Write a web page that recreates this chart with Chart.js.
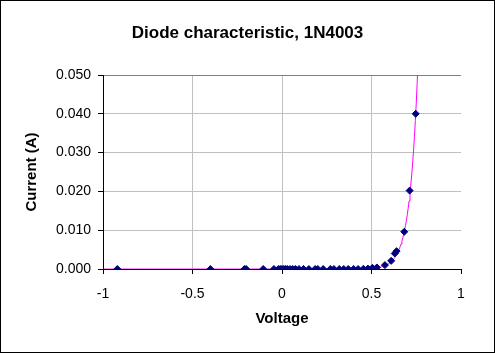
<!DOCTYPE html>
<html>
<head>
<meta charset="utf-8">
<script src="https://cdn.jsdelivr.net/npm/chart.js@4.4.1/dist/chart.umd.min.js"></script>
<style>
  html, body { margin: 0; padding: 0; background: #fff; }
  canvas { display: block; }
</style>
</head>
<body>
<canvas id="diodeChart" width="495" height="353"></canvas>
<script>
// measured points (voltage in V, current in A)
const voltage = [-0.92, -0.40, -0.21, -0.20, -0.105, -0.045, -0.02, -0.01, 0.00, 0.01,
                 0.02, 0.03, 0.045, 0.06, 0.075, 0.095, 0.12, 0.15, 0.185, 0.20,
                 0.23, 0.27, 0.29, 0.32, 0.345, 0.37, 0.40, 0.425, 0.455, 0.48,
                 0.505, 0.53, 0.575, 0.61, 0.63, 0.64, 0.683, 0.713, 0.747];
const current = [0, 0, 0, 0, 0, 0, 0, 0, 0, 0,
                 0, 0, 0, 0, 0, 0, 0, 0, 0, 0,
                 0, 0, 0, 0, 0, 0, 0, 0, 0.00005, 0.0001,
                 0.0003, 0.0004, 0.001, 0.0021, 0.0040, 0.0046, 0.0096, 0.0202, 0.040];

// exponential trendline I = a * exp(b * V), fitted by eye to the picture
const trendA = 2.33e-9;
const trendB = 22.3;
const trendFrom = -1;
const trendTo = 0.76;

const xTicks = [-1, -0.5, 0, 0.5, 1];
const yTicks = [0, 0.01, 0.02, 0.03, 0.04, 0.05];

const points = voltage.map((v, i) => ({ x: v, y: current[i] }));

const trend = [];
for (let v = trendFrom; v <= trendTo + 1e-9; v += 0.005) {
    trend.push({ x: v, y: trendA * Math.exp(trendB * v) });
}

const FONT = "Arial, 'Liberation Sans', sans-serif";

// white background and the black frame round the whole chart
const framePlugin = {
    id: 'frame',
    beforeDraw(chart) {
        const ctx = chart.ctx;
        ctx.save();
        ctx.fillStyle = '#ffffff';
        ctx.fillRect(0, 0, chart.width, chart.height);
        ctx.strokeStyle = '#000000';
        ctx.lineWidth = 1;
        ctx.strokeRect(0.5, 0.5, chart.width - 1, chart.height - 1);
        ctx.restore();
    }
};

new Chart(document.getElementById('diodeChart').getContext('2d'), {
    type: 'scatter',
    data: {
        datasets: [{
            label: 'Measured',
            data: points,
            pointStyle: 'rectRot',
            pointRadius: 3.5,
            backgroundColor: '#000080',
            borderColor: '#000080',
            borderWidth: 1,
            order: 0
        }, {
            type: 'line',
            label: 'Trend',
            data: trend,
            borderColor: '#ff00ff',
            borderWidth: 1,
            pointRadius: 0,
            tension: 0,
            fill: false,
            order: 1
        }]
    },
    options: {
        responsive: false,
        animation: false,
        layout: { padding: { left: 0, right: 0, top: 0, bottom: 17 } },
        plugins: {
            legend: { display: false },
            tooltip: { enabled: false },
            title: {
                display: true,
                text: 'Diode characteristic, 1N4003',
                color: '#000',
                font: { family: FONT, size: 17, weight: 'bold' },
                padding: { top: 23, bottom: 31.6 }
            }
        },
        scales: {
            x: {
                type: 'linear',
                min: -1,
                max: 1,
                afterBuildTicks(scale) {
                    scale.ticks = xTicks.map(v => ({ value: v }));
                },
                afterFit(scale) {
                    scale.height = 67;
                    scale.paddingRight = 34;
                },
                ticks: {
                    color: '#000',
                    font: { family: FONT, size: 14 },
                    padding: 12,
                    maxRotation: 0,
                    callback: v => String(v)
                },
                grid: {
                    color: ctx => (ctx.tick && ctx.tick.value === 1) ? 'rgba(0,0,0,0)' : '#c0c0c0',
                    tickColor: '#000',
                    tickLength: 5
                },
                border: { color: '#000', width: 1 },
                title: {
                    display: true,
                    text: 'Voltage',
                    color: '#000',
                    font: { family: FONT, size: 15, weight: 'bold' },
                    padding: { top: 8, bottom: 8 }
                }
            },
            y: {
                type: 'linear',
                min: 0,
                max: 0.05,
                afterBuildTicks(scale) {
                    scale.ticks = yTicks.map(v => ({ value: v }));
                },
                afterFit(scale) {
                    scale.width = 103;
                },
                ticks: {
                    color: '#000',
                    font: { family: FONT, size: 14 },
                    padding: 7,
                    callback: v => Number(v).toFixed(3)
                },
                grid: {
                    color: ctx => (ctx.tick && ctx.tick.value === 0.05) ? '#808080' : '#c0c0c0',
                    tickColor: '#000',
                    tickLength: 5
                },
                border: { color: '#000', width: 1 },
                title: {
                    display: true,
                    text: 'Current (A)',
                    color: '#000',
                    font: { family: FONT, size: 15, weight: 'bold' },
                    padding: { top: 23, bottom: 4 }
                }
            }
        }
    },
    plugins: [framePlugin]
});
</script>
</body>
</html>
